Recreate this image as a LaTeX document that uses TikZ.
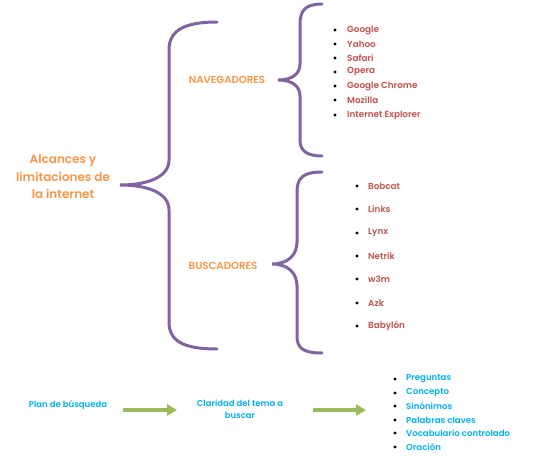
\documentclass[tikz,border=0pt]{standalone}
\usepackage{fontspec}
\setmainfont{Poppins}[BoldFont={Poppins SemiBold}]
\usetikzlibrary{arrows.meta}
\definecolor{naranja}{HTML}{F79646}
\definecolor{rojo}{HTML}{C0504D}
\definecolor{azul}{HTML}{00B0F0}
\definecolor{verde}{HTML}{9BBB59}
\definecolor{morado}{HTML}{8064A2}
\begin{document}
\begin{tikzpicture}[x=1pt,y=-1pt,>=stealth,
  llave/.style={draw=morado,line width=3pt,line cap=round},
  titulo/.style={text=naranja,font=\bfseries\fontsize{12}{17.5}\selectfont,align=center,inner sep=0pt},
  rama/.style={text=naranja,font=\bfseries\fontsize{10.2}{10}\selectfont,inner sep=0pt},
  itemrojo/.style={text=rojo,font=\bfseries\fontsize{8.8}{9}\selectfont,anchor=west,inner sep=0pt},
  itemazul/.style={text=azul,font=\bfseries\fontsize{8.6}{9}\selectfont,anchor=west,inner sep=0pt},
  paso/.style={text=azul,font=\bfseries\fontsize{8.5}{12.5}\selectfont,align=center,inner sep=0pt},
  flecha/.style={draw=verde,line width=4.5pt,-{Triangle[width=11pt,length=10pt]}}]
\useasboundingbox (0,0) rectangle (558,463);
% llave grande
\draw[llave] (217,22) .. controls (185,22) and (169,30) .. (169,50) -- (169,160)
  .. controls (169,176) and (150,185) .. (120,185)
  .. controls (150,185) and (169,194) .. (169,210) -- (169,322)
  .. controls (169,342) and (185,349) .. (217,349);
% llaves chicas
\draw[llave] (322,4) .. controls (306,4) and (300,10) .. (300,24) -- (300,64)
  .. controls (300,74) and (292,80) .. (278,80)
  .. controls (292,80) and (300,86) .. (300,96) -- (300,140)
  .. controls (300,150) and (306,156) .. (322,156);
\draw[llave] (322,172) .. controls (303,172) and (297,178) .. (297,192) -- (297,242)
  .. controls (297,255) and (288,264) .. (272,264)
  .. controls (288,264) and (297,273) .. (297,286) -- (297,336)
  .. controls (297,348) and (303,353) .. (322,353);
% textos
\node[titulo] (alcances) at (63,177) {Alcances y\\limitaciones de\\la internet};
\node[rama] (naveg) at (227,80) {NAVEGADORES};
\node[rama] (busc) at (223,266) {BUSCADORES};
\foreach \nombre/\y [count=\i] in {Google/30,Yahoo/44,Safari/58,Opera/72,Google Chrome/86,Mozilla/100,Internet Explorer/115}{
  \fill (335,\y) circle (1.6);
  \node[itemrojo] (nav\i) at (347,\y) {\nombre};
}
\foreach \nombre/\y [count=\i] in {Bobcat/186,Links/209,Lynx/233,Netrik/256,w3m/279,Azk/303,Babylón/326}{
  \fill (357,\y) circle (1.6);
  \node[itemrojo] (bus\i) at (368,\y) {\nombre};
}
% plan de busqueda
\node[paso] (plan) at (68,405) {Plan de búsqueda};
\node[paso] (claridad) at (240,409) {Claridad del tema a\\buscar};
\foreach \nombre/\y [count=\i] in {Preguntas/379,Concepto/393,Sinónimos/406,Palabras claves/420,Vocabulario controlado/433,Oración/447}{
  \fill (395,\y) circle (1.6);
  \node[itemazul] (pal\i) at (406,\y) {\nombre};
}
\coordinate (fin1) at (177,410);
\coordinate (ini2) at (313,410);
\coordinate (fin2) at (366,410);
\draw[flecha] (plan.east |- fin1) ++(16,0) -- (fin1);
\draw[flecha] (ini2) -- (fin2);
\end{tikzpicture}
\end{document}
